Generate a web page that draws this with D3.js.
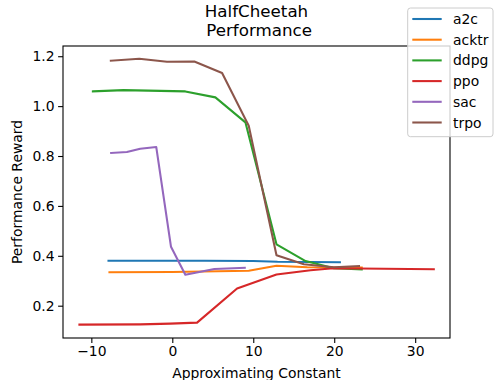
<html>
<head>
    <meta charset="utf-8">
    <script src="https://cdn.jsdelivr.net/npm/d3@7"></script>
    <style>
        body { margin: 0; background: white; }
        text { font-family: "DejaVu Sans", sans-serif; }
    </style>
</head>
<body>
    <script type="text/javascript">
        var width = 500;
        var height = 380;

        var margin = { left: 63, right: 50, top: 46, bottom: 42 };

        // values: [approximating constant, reward]
        var a2c = [[-7.88, 0.380], [-2, 0.380], [4, 0.380], [10, 0.379], [13, 0.376], [20.7, 0.374]];
        var acktr = [[-7.76, 0.334], [0, 0.335], [9.44, 0.340], [12.87, 0.360], [16.67, 0.354], [23.4, 0.353]];
        var ddpg = [[-9.81, 1.059], [-6.03, 1.064], [1.61, 1.059], [5.32, 1.035], [9.03, 0.935], [12.87, 0.446], [16.46, 0.379], [19.96, 0.350], [23.4, 0.345]];
        var ppo = [[-11.47, 0.124], [-3.96, 0.125], [-0.25, 0.128], [3.06, 0.132], [8.0, 0.269], [12.87, 0.325], [17.08, 0.342], [19.9, 0.350], [32.3, 0.346]];
        var sac = [[-7.55, 0.812], [-5.61, 0.816], [-3.96, 0.829], [-1.98, 0.836], [-0.16, 0.436], [1.61, 0.324], [5.2, 0.347], [8.95, 0.352]];
        var trpo = [[-7.59, 1.182], [-4.08, 1.190], [-0.66, 1.178], [2.72, 1.179], [6.15, 1.133], [9.44, 0.921], [12.87, 0.402], [16.25, 0.366], [19.96, 0.354], [23.06, 0.359]];

        var seriesNames = ["a2c", "acktr", "ddpg", "ppo", "sac", "trpo"];
        var seriesData = [a2c, acktr, ddpg, ppo, sac, trpo];
        var colors = ["#1f77b4", "#ff7f0e", "#2ca02c", "#d62728", "#9467bd", "#8c564b"];

        var xTicks = [-10, 0, 10, 20, 30];
        var yTicks = [0.2, 0.4, 0.6, 0.8, 1.0, 1.2];

        const svg = d3.select("body").append("svg")
            .attr("width", width)
            .attr("height", height);

        var xScale = d3.scaleLinear([-13.5, 34.3], [margin.left, width - margin.right]);
        var yScale = d3.scaleLinear([0.0705, 1.241], [height - margin.bottom, margin.top]);

        var xAxis = d3.axisBottom(xScale)
            .tickValues(xTicks)
            .tickFormat(d3.format("d"))
            .tickSizeOuter(0)
            .tickSize(4.9)
            .tickPadding(3.5);
        var yAxis = d3.axisLeft(yScale)
            .tickValues(yTicks)
            .tickFormat(d3.format(".1f"))
            .tickSizeOuter(0)
            .tickSize(4.9)
            .tickPadding(3.5);

        var line = d3.line()
            .x(d => xScale(d[0]))
            .y(d => yScale(d[1]));

        svg.append("g")
            .selectAll("path")
            .data(seriesData)
            .join("path")
                .attr("d", line)
                .attr("fill", "none")
                .attr("stroke", (d, i) => colors[i])
                .attr("stroke-width", 2.08)
                .attr("stroke-linejoin", "round")
                .attr("stroke-linecap", "square");

        // frame
        svg.append("rect")
            .attr("x", margin.left)
            .attr("y", margin.top)
            .attr("width", width - margin.left - margin.right)
            .attr("height", height - margin.top - margin.bottom)
            .attr("fill", "none")
            .attr("stroke", "black")
            .attr("stroke-width", 1.1);

        var gx = svg.append("g")
            .attr("transform", `translate(0, ${height - margin.bottom})`)
            .call(xAxis);
        var gy = svg.append("g")
            .attr("transform", `translate(${margin.left}, 0)`)
            .call(yAxis);

        [gx, gy].forEach(g => {
            g.select(".domain").remove();
            g.selectAll("line").attr("stroke-width", 1.1);
            g.selectAll("text")
                .style("font-family", "DejaVu Sans")
                .style("font-size", "13.9px")
                .attr("fill", "black");
        });

        // titles
        var cx = (margin.left + width - margin.right) / 2;
        svg.append("text")
            .attr("x", cx)
            .attr("y", 16.5)
            .attr("text-anchor", "middle")
            .style("font-size", "16.7px")
            .text("HalfCheetah");
        svg.append("text")
            .attr("x", cx)
            .attr("y", 36.3)
            .attr("text-anchor", "middle")
            .style("font-size", "16.7px")
            .style("white-space", "pre")
            .text(" Performance");

        svg.append("text")
            .attr("x", cx)
            .attr("y", 378)
            .attr("text-anchor", "middle")
            .style("font-size", "13.9px")
            .text("Approximating Constant");

        svg.append("text")
            .attr("transform", `translate(22, ${(margin.top + height - margin.bottom) / 2}) rotate(-90)`)
            .attr("text-anchor", "middle")
            .style("font-size", "13.9px")
            .text("Performance Reward");

        // legend
        var legend = svg.append("g");
        legend.append("rect")
            .attr("x", 407.7)
            .attr("y", 8)
            .attr("width", 85.3)
            .attr("height", 128.7)
            .attr("rx", 2.8)
            .attr("fill", "white")
            .attr("fill-opacity", 0.8)
            .attr("stroke", "#cccccc")
            .attr("stroke-width", 1);

        var items = legend.selectAll("g.item")
            .data(seriesNames)
            .join("g")
                .attr("class", "item")
                .attr("transform", (d, i) => `translate(0, ${19 + i * 20.7})`);

        items.append("line")
            .attr("x1", 412.3)
            .attr("x2", 441.7)
            .attr("stroke", (d, i) => colors[i])
            .attr("stroke-width", 2.08);

        items.append("text")
            .attr("x", 453)
            .attr("y", 5)
            .style("font-size", "13.9px")
            .text(d => d);
    </script>
</body>
</html>
